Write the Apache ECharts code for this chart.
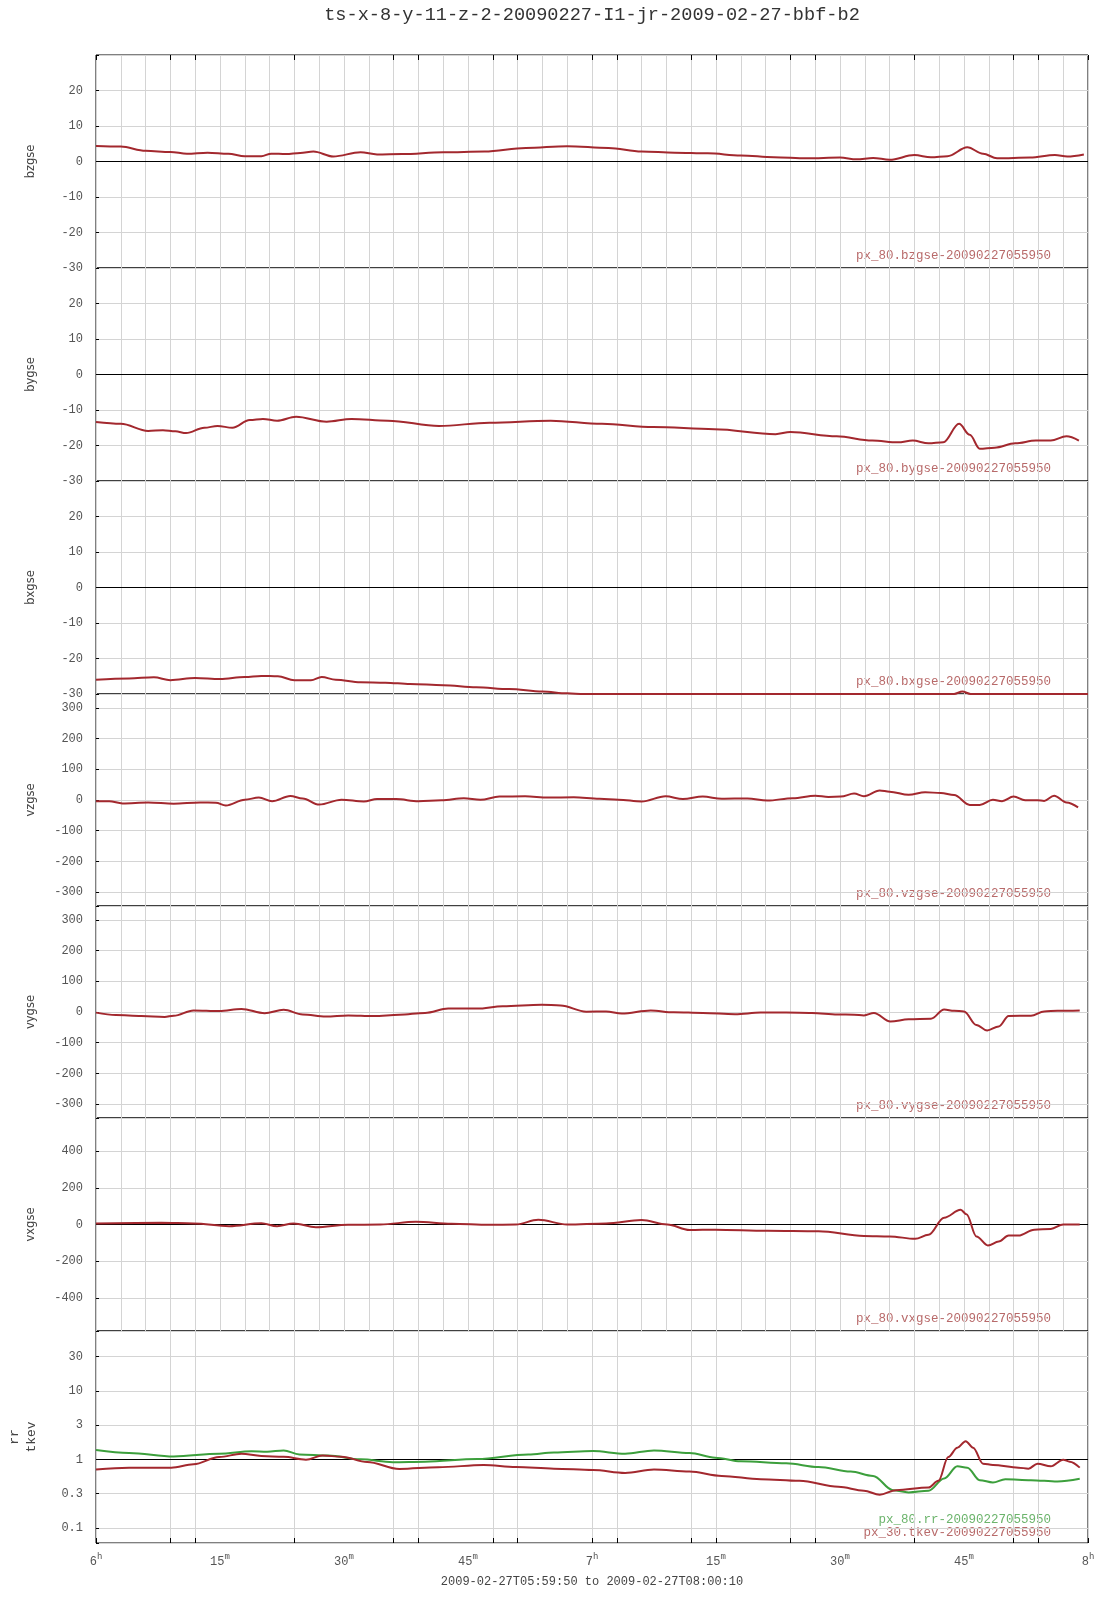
<!DOCTYPE html>
<html>
<head>
<meta charset="utf-8">
<script src="https://cdn.jsdelivr.net/npm/echarts@6/dist/echarts.min.js"></script>
<style>
html,body{margin:0;padding:0;background:#fff;}
#chart{width:1107px;height:1600px;}
</style>
</head>
<body>
<div id="chart"></div>
<script>
// ---------------- data (minutes after 06:00 UT) ----------------
const TITLE = 'ts-x-8-y-11-z-2-20090227-I1-jr-2009-02-27-bbf-b2';
const RANGE_TEXT = '2009-02-27T05:59:50 to 2009-02-27T08:00:10';
const X_LABELS = {0:['6','h'],15:['15','m'],30:['30','m'],45:['45','m'],60:['7','h'],75:['15','m'],90:['30','m'],105:['45','m'],120:['8','h']};
const EDGE_TICKS = [0, 9, 12, 24, 36, 39, 48, 51, 60, 63, 72, 75, 84, 87, 99, 111, 114, 120];

const bzgseT = [0, 3, 6, 9, 11, 13.5, 16, 18, 20, 21.2, 23, 24.7, 26.3, 28.7, 32, 34, 37, 42, 47, 52, 57, 62, 66, 70, 74, 78, 82, 86, 90, 92, 94, 96, 99, 101, 103, 105.4, 107.3, 109, 113, 116, 117.5, 119.5];
const bzgseV = [4.4, 4.2, 3.0, 2.7, 2.2, 2.5, 2.2, 1.5, 1.5, 2.2, 2.1, 2.4, 2.8, 1.4, 2.6, 2.0, 2.1, 2.6, 2.8, 3.8, 4.3, 3.8, 2.8, 2.5, 2.3, 1.7, 1.2, 0.9, 1.1, 0.6, 1.0, 0.5, 1.8, 1.2, 1.5, 4.0, 2.2, 0.9, 1.1, 1.8, 1.4, 2.0];

const bygseT = [0, 3, 6.3, 8.1, 9.6, 10.9, 13.1, 14.7, 16.5, 18.6, 20.2, 21.9, 24.2, 27.9, 30.9, 35.3, 41.5, 47.6, 55, 61.2, 67.4, 74.8, 82.2, 84, 89.6, 93.9, 97, 98.8, 100.7, 102.5, 104.4, 105.7, 106.9, 108.7, 111.2, 113.7, 115.5, 117.4, 118.9];
const bygseV = [-13.4, -13.9, -15.9, -15.7, -16.0, -16.5, -15.0, -14.5, -15.0, -12.8, -12.5, -13.0, -11.9, -13.3, -12.5, -13.0, -14.5, -13.6, -13.0, -13.9, -14.8, -15.4, -16.8, -16.2, -17.4, -18.6, -19.1, -18.6, -19.4, -19.1, -13.9, -17.0, -20.9, -20.6, -19.4, -18.6, -18.6, -17.4, -18.6];

const bxgseT = [0, 4, 7, 9, 12, 15, 18, 20, 22, 24, 26, 27.3, 29, 32, 35, 38, 42, 46, 50, 54, 57, 59, 66, 80, 100, 103.8, 104.8, 105.8, 110, 120];
const bxgseV = [-26.0, -25.6, -25.3, -26.1, -25.5, -25.8, -25.2, -24.9, -25.0, -26.1, -26.1, -25.2, -26.0, -26.7, -26.8, -27.2, -27.5, -28.1, -28.6, -29.3, -29.8, -30, -30, -30, -30, -30, -29.3, -30, -30, -30];

const vzgseT = [0, 1.6, 3.2, 6.3, 9.4, 12.6, 14.5, 15.7, 18, 19.7, 21.3, 23.5, 25, 27, 29.7, 32.4, 34, 36.3, 39, 41.8, 44.5, 46.5, 48.8, 51.9, 54.7, 57.8, 60.9, 63.2, 66, 68.9, 71, 73.4, 75.7, 78.8, 81.2, 84.3, 87, 88.6, 90.1, 91.7, 92.9, 94.8, 96, 98.3, 100.3, 102.2, 103.8, 105.7, 106.9, 108.5, 109.6, 111, 112.4, 113.9, 114.7, 115.9, 117.4, 118.8];
const vzgseV = [-4, -4, -11, -8, -12, -8, -9, -18, 1, 8, -4, 13, 5, -15, 1, -5, 3, 3, -4, -1, 6, 1, 11, 12, 8, 9, 4, 1, -5, 12, 3, 11, 4, 5, -2, 6, 14, 10, 11, 21, 12, 31, 27, 17, 25, 23, 16, -16, -16, 1, -4, 11, -1, -1, -3, 14, -8, -24];

const vygseT = [0, 2.4, 5.5, 8.3, 9.4, 11.8, 14.9, 17.6, 20.4, 22.7, 25, 27.8, 30.5, 33.6, 36.7, 39.8, 42.6, 46.1, 49.2, 53.9, 56.2, 59.3, 61.7, 63.6, 67.1, 69.9, 73.4, 77.3, 80.4, 83.5, 86.6, 89.7, 91.7, 92.9, 94.1, 96.1, 98.3, 101, 102.6, 103.8, 105, 106.5, 107.8, 109.2, 110.4, 113.1, 114.7, 116.3, 119];
const vygseV = [-2, -10, -13, -16, -12, 5, 3, 10, -4, 7, -8, -15, -11, -13, -9, -3, 11, 11, 19, 24, 21, 1, 2, -5, 5, -1, -3, -7, -2, -2, -3, -8, -9, -11, -3, -31, -24, -22, 8, 4, 2, -42, -60, -47, -13, -12, 2, 4, 5];

const vxgseT = [0, 7.9, 11.8, 16.1, 20, 21.9, 23.9, 26.6, 30.5, 34.4, 38.7, 43, 47.6, 50.8, 53.5, 57, 61.7, 66, 69.1, 71.8, 74.9, 81.2, 87.4, 92.9, 96, 99.1, 100.7, 102.6, 104.6, 105.3, 106.5, 107.9, 109.2, 110.4, 111.6, 113.5, 115.5, 117, 119];
const vxgseV = [6, 9, 6, -9, 7, -9, 6, -15, -2, 0, 15, 4, -2, 0, 26, 0, 6, 24, 0, -30, -28, -34, -37, -62, -65, -78, -56, 37, 80, 56, -65, -114, -93, -60, -60, -28, -24, 0, 0];

const rrT = [0, 4, 9.4, 14.9, 18.8, 20.7, 22.7, 24.6, 28.1, 32, 35.9, 39.8, 46.1, 52.3, 55.4, 60.1, 64, 67.5, 71.8, 74.9, 78, 83.5, 87.4, 91.3, 94, 96.4, 98.3, 100.7, 102.6, 104.2, 105.4, 106.9, 108.5, 110, 113.1, 116.3, 119];
const rrV = [1.37, 1.24, 1.10, 1.21, 1.31, 1.29, 1.35, 1.18, 1.14, 1.0, 0.91, 0.925, 1.01, 1.18, 1.26, 1.32, 1.21, 1.35, 1.24, 1.06, 0.935, 0.875, 0.774, 0.663, 0.573, 0.355, 0.329, 0.348, 0.525, 0.79, 0.757, 0.497, 0.459, 0.513, 0.497, 0.474, 0.519];

const tkevT = [0, 4, 9.1, 11.8, 14.9, 17.6, 20, 22.7, 25.4, 27.4, 29.7, 32.8, 36.7, 41.4, 46.9, 50.8, 55.4, 60.1, 64, 67.5, 71.8, 75.7, 80.4, 85.1, 89.8, 92.9, 94.8, 96.8, 100.7, 101.9, 103.1, 104.2, 105.2, 106.1, 107.3, 108.5, 111.6, 112.8, 113.9, 115.5, 117, 117.8, 119];
const tkevV = [0.71, 0.757, 0.757, 0.847, 1.08, 1.21, 1.12, 1.09, 0.99, 1.14, 1.09, 0.915, 0.724, 0.766, 0.828, 0.774, 0.732, 0.70, 0.634, 0.708, 0.663, 0.573, 0.513, 0.485, 0.397, 0.348, 0.304, 0.355, 0.388, 0.485, 1.08, 1.48, 1.84, 1.48, 0.866, 0.828, 0.757, 0.732, 0.866, 0.79, 0.99, 0.925, 0.757];

// ---------------- styling ----------------
const RED = '#a3282e', GREEN = '#3c9f3c';
const RED_TXT = '#b86a6a', GREEN_TXT = '#6cb46c';
const MONO = '"Liberation Mono","DejaVu Sans Mono",monospace';
const SANS = '"DejaVu Sans","Noto Sans",sans-serif';
const LEFT = 96, RIGHT = 19;
const TOPS = [55, 268, 481, 694, 906, 1118, 1331, 1543];

const panels = [
  {name:'bzgse', min:-30, max:30, interval:10, step:10, zero:0, series:[{t:bzgseT, v:bzgseV, c:RED, legend:'px_80.bzgse-20090227055950', lc:RED_TXT}]},
  {name:'bygse', min:-30, max:30, interval:10, step:10, zero:0, series:[{t:bygseT, v:bygseV, c:RED, legend:'px_80.bygse-20090227055950', lc:RED_TXT}]},
  {name:'bxgse', min:-30, max:30, interval:10, step:10, zero:0, series:[{t:bxgseT, v:bxgseV, c:RED, legend:'px_80.bxgse-20090227055950', lc:RED_TXT}]},
  {name:'vzgse', min:-345, max:345, step:100, zero:null, series:[{t:vzgseT, v:vzgseV, c:RED, legend:'px_80.vzgse-20090227055950', lc:RED_TXT}]},
  {name:'vygse', min:-345, max:345, step:100, zero:null, series:[{t:vygseT, v:vygseV, c:RED, legend:'px_80.vygse-20090227055950', lc:RED_TXT}]},
  {name:'vxgse', min:-580, max:580, step:200, zero:0, series:[{t:vxgseT, v:vxgseV, c:RED, legend:'px_80.vxgse-20090227055950', lc:RED_TXT}]},
  {name:'rr\ntkev', log:true, min:0.06, max:75, zero:1, series:[
    {t:rrT, v:rrV, c:GREEN, legend:'px_80.rr-20090227055950', lc:GREEN_TXT},
    {t:tkevT, v:tkevV, c:RED, legend:'px_30.tkev-20090227055950', lc:RED_TXT}]}
];

const grids = [], xAxes = [], yAxes = [], series = [], graphics = [];
const edgeTick = {show: true, inside: true, length: 5, customValues: EDGE_TICKS, lineStyle: {color: '#000', width: 1}};
panels.forEach((p, i) => {
  const top = TOPS[i], h = TOPS[i + 1] - TOPS[i];
  const last = i === panels.length - 1;
  grids.push({left: LEFT, right: RIGHT, top: top, height: h, show: true, borderColor: '#000', borderWidth: 1,
    backgroundColor: 'transparent', containLabel: false, outerBoundsMode: 'none'});
  xAxes.push({
    gridIndex: i, type: 'value', min: 0, max: 120, interval: 3, position: 'bottom',
    axisLine: {show: false}, axisTick: last ? edgeTick : {show: false},
    splitLine: {show: true, lineStyle: {color: '#d4d4d4', width: 1}},
    axisLabel: last ? {
      show: true, interval: 0, margin: 9, color: '#555', fontFamily: MONO, fontSize: 12,
      formatter: v => { const l = X_LABELS[Math.round(v)]; return (l && Math.abs(v - Math.round(v)) < 1e-6) ? '{n|' + l[0] + '}{s|' + l[1] + '}' : ''; },
      rich: {n: {fontFamily: MONO, fontSize: 12, color: '#555', lineHeight: 16, verticalAlign: 'bottom'},
             s: {fontFamily: MONO, fontSize: 9, color: '#555', lineHeight: 16, verticalAlign: 'top', padding: [0, 0, 8, 0]}}
    } : {show: false},
    name: last ? RANGE_TEXT : '', nameLocation: 'middle', nameGap: 33,
    nameTextStyle: {fontFamily: MONO, fontSize: 12, color: '#444'}
  });
  const y = {
    gridIndex: i, min: p.min, max: p.max,
    axisLine: {show: false},
    axisTick: {show: true, inside: true, length: 3, lineStyle: {color: '#000'}},
    splitLine: {show: true, lineStyle: {color: '#d4d4d4', width: 1}},
    axisLabel: {color: '#555', fontFamily: MONO, fontSize: 12, margin: 13},
    name: p.name, nameLocation: 'middle', nameGap: 56, nameRotate: 90,
    nameTextStyle: {fontFamily: p.log ? MONO : SANS, fontSize: p.log ? 13 : 11.5, color: '#444', lineHeight: 17}
  };
  if (p.log) {
    y.type = 'log'; y.logBase = Math.sqrt(10);
    y.axisLabel.formatter = v => { const e = Math.log10(v) * 2; return Math.abs(e - Math.round(e)) > 1e-4 ? '' : String(Number(v.toPrecision(1))); };
  } else {
    y.type = 'value';
    if (p.interval) y.interval = p.interval;
    y.axisLabel.formatter = v => (Math.abs(v % p.step) > 1e-6 || v >= p.max - 1e-6) ? '' : String(v);
  }
  yAxes.push(y);
  p.series.forEach((s, k) => {
    const ser = {
      type: 'line', xAxisIndex: i, yAxisIndex: i, name: s.legend,
      data: s.t.map((t, j) => [t, s.v[j]]),
      showSymbol: false, smooth: 0.35, smoothMonotone: 'x', clip: true,
      lineStyle: {color: s.c, width: 2}, itemStyle: {color: s.c},
      animation: false, silent: true, z: 3
    };
    if (k === 0 && p.zero !== null) {
      ser.markLine = {silent: true, symbol: 'none', label: {show: false}, animation: false, z: 2,
        lineStyle: {color: '#000', width: 1, type: 'solid'}, data: [{yAxis: p.zero}]};
    }
    series.push(ser);
    const n = p.series.length;
    const off = n > 1 ? 10 + (n - 1 - k) * 13 : 12;
    graphics.push({type: 'text', x: 1051, y: top + h - off,
      style: {text: s.legend, fill: s.lc, font: '12.5px ' + MONO, align: 'right', textAlign: 'right', verticalAlign: 'middle', textVerticalAlign: 'middle'}});
  });
});
// tick-only axis on the top edge of the first panel
xAxes.push({gridIndex: 0, type: 'value', min: 0, max: 120, position: 'top',
  axisLine: {show: false}, axisLabel: {show: false}, splitLine: {show: false}, axisTick: edgeTick});

graphics.push({type: 'text', x: 592, y: 15,
  style: {text: TITLE, fill: '#333', font: '18.6px ' + MONO, align: 'center', textAlign: 'center', verticalAlign: 'middle', textVerticalAlign: 'middle'}});

const chart = echarts.init(document.getElementById('chart'), null, {renderer: 'canvas'});
chart.setOption({
  animation: false, backgroundColor: '#fff',
  grid: grids, xAxis: xAxes, yAxis: yAxes, series: series, graphic: graphics
});
</script>
</body>
</html>
